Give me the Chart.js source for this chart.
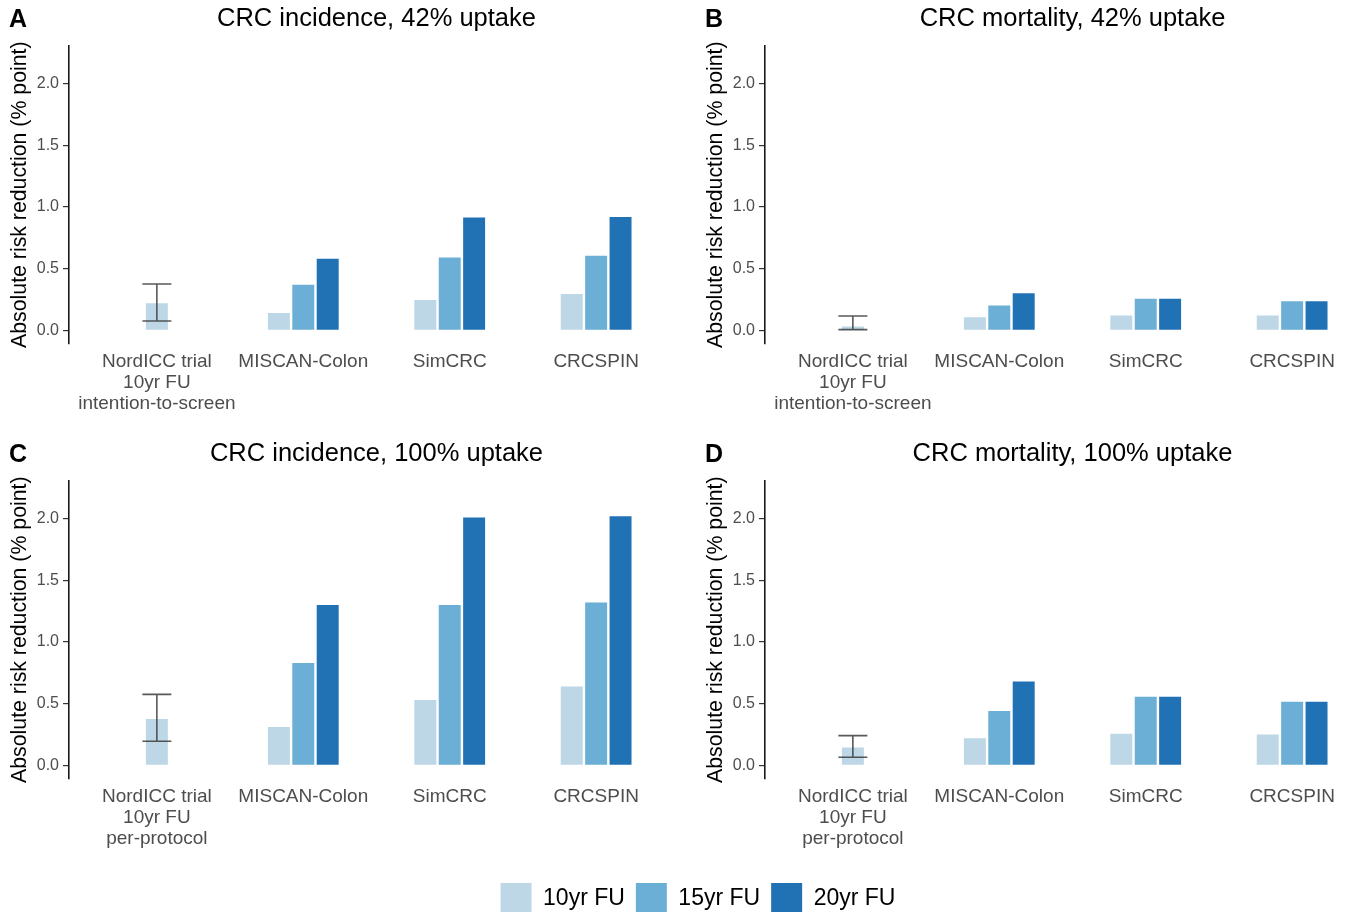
<!DOCTYPE html>
<html lang="en">
<head>
<meta charset="UTF-8">
<title>CRC screening - absolute risk reduction</title>
<script src="https://cdn.jsdelivr.net/npm/chart.js"></script>
<style>
  html, body { margin: 0; padding: 0; background: #fff; overflow: hidden; }
  body { width: 1350px; height: 912px; position: relative; }
  canvas { position: absolute; }
</style>
</head>
<body>
<canvas id="panelA" width="684" height="430" style="left:0;top:0"></canvas>
<canvas id="panelB" width="684" height="430" style="left:696px;top:0"></canvas>
<canvas id="panelC" width="684" height="430" style="left:0;top:435px"></canvas>
<canvas id="panelD" width="684" height="430" style="left:696px;top:435px"></canvas>
<canvas id="legend" width="1400" height="120" style="left:-2px;top:872px"></canvas>

<script>
const models = ['MISCAN-Colon', 'SimCRC', 'CRCSPIN'];
const trialLabelITS = ['NordICC trial', '10yr FU', 'intention-to-screen'];
const trialLabelPP = ['NordICC trial', '10yr FU', 'per-protocol'];
const seriesNames = ['10yr FU', '15yr FU', '20yr FU'];
const seriesColors = ['#bdd7e7', '#6baed6', '#2171b5'];
const yTicks = [0, 0.5, 1.0, 1.5, 2.0];

// A: CRC incidence, 42% uptake
const incid42Trial = 0.22;
const incid42CI = [0.075, 0.375];
const incid42_10 = [0.14, 0.245, 0.295];
const incid42_15 = [0.37, 0.59, 0.605];
const incid42_20 = [0.58, 0.915, 0.92];

// B: CRC mortality, 42% uptake
const mort42Trial = 0.03;
const mort42CI = [0.005, 0.115];
const mort42_10 = [0.105, 0.12, 0.12];
const mort42_15 = [0.20, 0.255, 0.235];
const mort42_20 = [0.30, 0.255, 0.235];

// C: CRC incidence, 100% uptake
const incid100Trial = 0.375;
const incid100CI = [0.195, 0.575];
const incid100_10 = [0.31, 0.53, 0.64];
const incid100_15 = [0.83, 1.30, 1.32];
const incid100_20 = [1.30, 2.01, 2.02];

// D: CRC mortality, 100% uptake
const mort100Trial = 0.145;
const mort100CI = [0.065, 0.24];
const mort100_10 = [0.22, 0.255, 0.25];
const mort100_15 = [0.44, 0.555, 0.515];
const mort100_20 = [0.68, 0.555, 0.515];

Chart.defaults.font.family = '"Liberation Sans", Arial, sans-serif';

// error bar for the trial estimate
const errorBarPlugin = {
  id: 'errorBars',
  afterDatasetsDraw(chart, args, opts) {
    const ctx = chart.ctx;
    const x = chart.scales.x.getPixelForValue(opts.x);
    const lo = chart.scales.y.getPixelForValue(opts.low);
    const hi = chart.scales.y.getPixelForValue(opts.high);
    ctx.save();
    ctx.strokeStyle = 'rgba(60,60,60,0.85)';
    ctx.lineWidth = 1.6;
    ctx.beginPath();
    ctx.moveTo(x, lo); ctx.lineTo(x, hi);
    ctx.moveTo(x - 14.5, lo); ctx.lineTo(x + 14.5, lo);
    ctx.moveTo(x - 14.5, hi); ctx.lineTo(x + 14.5, hi);
    ctx.stroke();
    ctx.restore();
  }
};

const letterPlugin = {
  id: 'panelLetter',
  afterDraw(chart, args, opts) {
    const ctx = chart.ctx;
    ctx.save();
    ctx.font = 'bold 25px "Liberation Sans", Arial, sans-serif';
    ctx.fillStyle = '#000';
    ctx.textBaseline = 'middle';
    ctx.fillText(opts.text, 9, 20);
    ctx.restore();
  }
};

function makePanel(id, letter, title, trialLabel, trial, ci, series) {
  const labels = [trialLabel].concat(models);
  const datasets = [{
    label: 'NordICC trial',
    data: [{ x: 1, y: trial }],
    backgroundColor: seriesColors[0],
    grouped: false,
    maxBarThickness: 22
  }];
  series.forEach((vals, s) => {
    datasets.push({
      label: seriesNames[s],
      data: vals.map((v, i) => ({ x: i + 2, y: v })),
      backgroundColor: seriesColors[s],
      stack: 's' + s
    });
  });

  new Chart(document.getElementById(id), {
    type: 'bar',
    data: { datasets },
    options: {
      responsive: false,
      animation: false,
      categoryPercentage: 0.5,
      barPercentage: 0.9,
      layout: { padding: 0 },
      plugins: {
        legend: { display: false },
        tooltip: { enabled: false },
        title: {
          display: true, text: title, fullSize: false, color: '#000',
          font: { size: 25.5, weight: 'normal' }, padding: { top: 4, bottom: 11 }
        },
        errorBars: { x: 1, low: ci[0], high: ci[1] },
        panelLetter: { text: letter }
      },
      scales: {
        x: {
          type: 'linear', min: 0.4, max: 4.6, offset: false,
          grid: { display: false, drawTicks: false },
          border: { display: false },
          afterBuildTicks: sc => { sc.ticks = labels.map((l, i) => ({ value: i + 1 })); },
          afterFit: sc => { sc.height = 86.2; },
          ticks: {
            autoSkip: false, maxRotation: 0, padding: 8, color: '#4d4d4d',
            font: { size: 19, lineHeight: 1.1 },
            callback: (v, i) => labels[i]
          }
        },
        y: {
          min: -0.11, max: 2.31,
          afterBuildTicks: sc => { sc.ticks = yTicks.map(v => ({ value: v })); },
          afterFit: sc => { sc.width = 69; },
          grid: { display: true, drawOnChartArea: false, drawTicks: true, tickLength: 6, color: '#333', lineWidth: 1.2 },
          border: { display: true, color: '#1a1a1a', width: 1.6 },
          ticks: { padding: 4, color: '#4d4d4d', font: { size: 16 }, callback: v => v.toFixed(1) },
          title: {
            display: true, text: 'Absolute risk reduction (% point)', color: '#000',
            font: { size: 21.3 }, padding: { top: 7, bottom: 0 }
          }
        }
      }
    },
    plugins: [errorBarPlugin, letterPlugin]
  });
}

makePanel('panelA', 'A', 'CRC incidence, 42% uptake', trialLabelITS, incid42Trial, incid42CI, [incid42_10, incid42_15, incid42_20]);
makePanel('panelB', 'B', 'CRC mortality, 42% uptake', trialLabelITS, mort42Trial, mort42CI, [mort42_10, mort42_15, mort42_20]);
makePanel('panelC', 'C', 'CRC incidence, 100% uptake', trialLabelPP, incid100Trial, incid100CI, [incid100_10, incid100_15, incid100_20]);
makePanel('panelD', 'D', 'CRC mortality, 100% uptake', trialLabelPP, mort100Trial, mort100CI, [mort100_10, mort100_15, mort100_20]);

// shared legend
new Chart(document.getElementById('legend'), {
  type: 'bar',
  data: {
    labels: [],
    datasets: seriesNames.map((n, i) => ({ label: n, data: [], backgroundColor: seriesColors[i], borderWidth: 0 }))
  },
  options: {
    responsive: false,
    animation: false,
    scales: { x: { display: false }, y: { display: false } },
    plugins: {
      tooltip: { enabled: false },
      legend: {
        position: 'top',
        labels: { boxWidth: 31, boxHeight: 31, padding: 11, font: { size: 23 }, color: '#000' }
      }
    }
  }
});
</script>
</body>
</html>
